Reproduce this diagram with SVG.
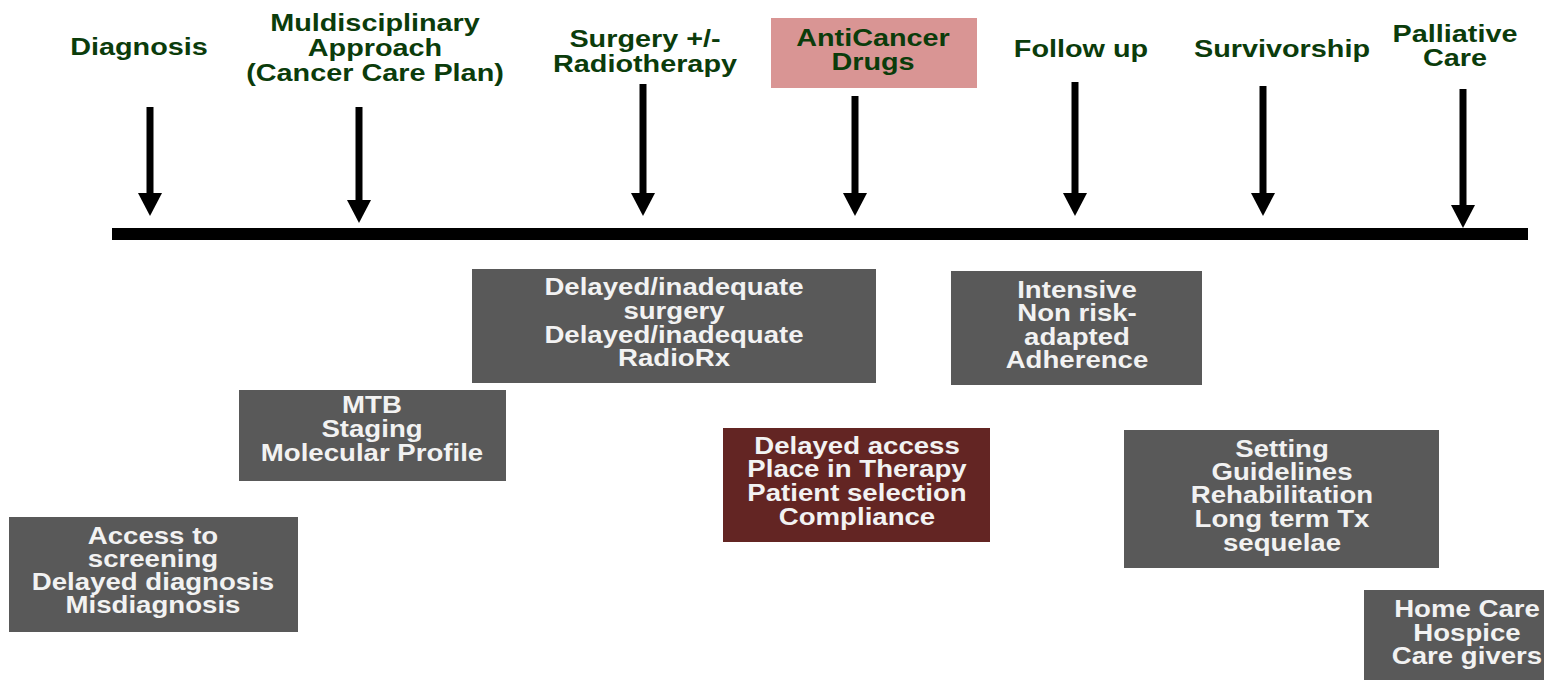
<svg xmlns="http://www.w3.org/2000/svg" width="1544" height="680" viewBox="0 0 1544 680">
<defs>
<style>
text{font-family:"Liberation Sans",Arial,sans-serif;font-weight:bold;text-anchor:middle}
.h{font-size:24px;fill:#0b3c0b}
.b{font-size:24px;fill:#f2f2f2}
.gray{fill:#595959}
.arr{stroke:#000;stroke-width:7;marker-end:url(#ah)}
</style>
<marker id="ah" markerUnits="userSpaceOnUse" markerWidth="24" markerHeight="24" refX="0" refY="12" orient="auto" viewBox="0 0 24 24">
<path d="M0,0 L23,12 L0,24 z" fill="#000"/>
</marker>
</defs>
<rect width="1544" height="680" fill="#fff"/>
<g id="h-diagnosis"><text class="h" transform="translate(139,55) scale(1.2,1)">Diagnosis</text></g>
<g id="h-multi"><text class="h" transform="translate(375,31) scale(1.2,1)"><tspan x="0" y="0">Muldisciplinary</tspan><tspan x="0" y="25">Approach</tspan><tspan x="0" y="50">(Cancer Care Plan)</tspan></text></g>
<g id="h-surgery"><text class="h" transform="translate(645,47) scale(1.2,1)"><tspan x="0" y="0">Surgery +/-</tspan><tspan x="0" y="25">Radiotherapy</tspan></text></g>
<g id="h-anticancer"><rect x="771" y="18" width="206" height="70" fill="#d99594"/><text class="h" transform="translate(873,45.5) scale(1.2,1)"><tspan x="0" y="0">AntiCancer</tspan><tspan x="0" y="25">Drugs</tspan></text></g>
<g id="h-follow"><text class="h" transform="translate(1081,57) scale(1.2,1)">Follow up</text></g>
<g id="h-surv"><text class="h" transform="translate(1282,57) scale(1.2,1)">Survivorship</text></g>
<g id="h-pall"><text class="h" transform="translate(1455,41.5) scale(1.2,1)"><tspan x="0" y="0">Palliative</tspan><tspan x="0" y="25">Care</tspan></text></g>
<g id="connectors">
<rect x="112" y="228" width="1416" height="12" fill="#000"/>
<line class="arr" x1="150" y1="107" x2="150" y2="193"/>
<line class="arr" x1="359" y1="107" x2="359" y2="200"/>
<line class="arr" x1="643" y1="84" x2="643" y2="193"/>
<line class="arr" x1="855" y1="96" x2="855" y2="193"/>
<line class="arr" x1="1075" y1="82" x2="1075" y2="193"/>
<line class="arr" x1="1263" y1="86" x2="1263" y2="193"/>
<line class="arr" x1="1463" y1="89" x2="1463" y2="205"/>
</g>
<g id="b-access"><rect class="gray" x="9" y="517" width="289" height="115"/><text class="b" transform="translate(153,544) scale(1.15,1)"><tspan x="0" y="0">Access to</tspan><tspan x="0" y="23">screening</tspan><tspan x="0" y="46">Delayed diagnosis</tspan><tspan x="0" y="69">Misdiagnosis</tspan></text></g>
<g id="b-mtb"><rect class="gray" x="239" y="390" width="267" height="91"/><text class="b" transform="translate(372,413) scale(1.15,1)"><tspan x="0" y="0">MTB</tspan><tspan x="0" y="24">Staging</tspan><tspan x="0" y="48">Molecular Profile</tspan></text></g>
<g id="b-surgery"><rect class="gray" x="472" y="269" width="404" height="114"/><text class="b" transform="translate(674,295) scale(1.15,1)"><tspan x="0" y="0">Delayed/inadequate</tspan><tspan x="0" y="24">surgery</tspan><tspan x="0" y="48">Delayed/inadequate</tspan><tspan x="0" y="71">RadioRx</tspan></text></g>
<g id="b-followup"><rect class="gray" x="951" y="271" width="251" height="114"/><text class="b" transform="translate(1077,298) scale(1.15,1)"><tspan x="0" y="0">Intensive</tspan><tspan x="0" y="23">Non risk-</tspan><tspan x="0" y="47">adapted</tspan><tspan x="0" y="70">Adherence</tspan></text></g>
<g id="b-drugs"><rect x="723" y="428" width="267" height="114" fill="#632523"/><text class="b" transform="translate(857,454) scale(1.15,1)"><tspan x="0" y="0">Delayed access</tspan><tspan x="0" y="23">Place in Therapy</tspan><tspan x="0" y="47">Patient selection</tspan><tspan x="0" y="71">Compliance</tspan></text></g>
<g id="b-surv"><rect class="gray" x="1124" y="430" width="315" height="138"/><text class="b" transform="translate(1282,457) scale(1.15,1)"><tspan x="0" y="0">Setting</tspan><tspan x="0" y="23">Guidelines</tspan><tspan x="0" y="46">Rehabilitation</tspan><tspan x="0" y="70">Long term Tx</tspan><tspan x="0" y="94">sequelae</tspan></text></g>
<g id="b-pall"><rect class="gray" x="1364" y="590" width="180" height="90"/><text class="b" transform="translate(1467,617) scale(1.15,1)"><tspan x="0" y="0">Home Care</tspan><tspan x="0" y="24">Hospice</tspan><tspan x="0" y="47">Care givers</tspan></text></g>
</svg>
